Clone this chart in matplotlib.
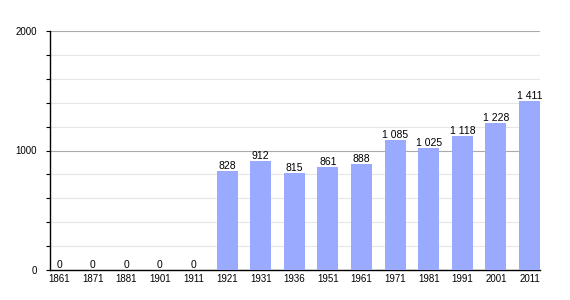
import matplotlib.pyplot as plt
import numpy as np

# population by census year
years = ['1861', '1871', '1881', '1901', '1911', '1921', '1931', '1936',
         '1951', '1961', '1971', '1981', '1991', '2001', '2011']
population = [0, 0, 0, 0, 0, 828, 912, 815, 861, 888, 1085, 1025, 1118, 1228, 1411]

plt.rcParams['font.family'] = ['Liberation Sans', 'DejaVu Sans']

fig = plt.figure(figsize=(5.7, 3.0), dpi=100)
ax = fig.add_axes([50 / 570, 30 / 300, 490 / 570, 239 / 300])

x = np.arange(len(years))
ax.bar(x, population, width=0.625, color='#99aaff', zorder=3)

for xi, v in zip(x, population):
    lbl = f'{v:,}'.replace(',', ' ')
    ax.text(xi, v, lbl, ha='center', va='bottom', fontsize=7.5, zorder=4)

ax.set_xlim(-0.27, 14.31)
ax.set_ylim(0, 2000)
ax.set_yticks([0, 1000, 2000])
ax.set_yticks(np.arange(0, 2001, 200), minor=True)
ax.set_xticks(x)
ax.set_xticklabels(years)

ax.grid(axis='y', which='minor', color='#e6e6e6', linewidth=0.8, zorder=0)
ax.grid(axis='y', which='major', color='#aaaaaa', linewidth=0.8, zorder=1)

for s in ['top', 'right']:
    ax.spines[s].set_visible(False)
ax.spines['left'].set_linewidth(1)
ax.spines['bottom'].set_linewidth(1)

ax.tick_params(axis='x', length=0, labelsize=7, pad=3)
ax.tick_params(axis='y', which='both', length=3, width=0.8, labelsize=7, pad=6.5)

fig.savefig('out.png', dpi=100)
